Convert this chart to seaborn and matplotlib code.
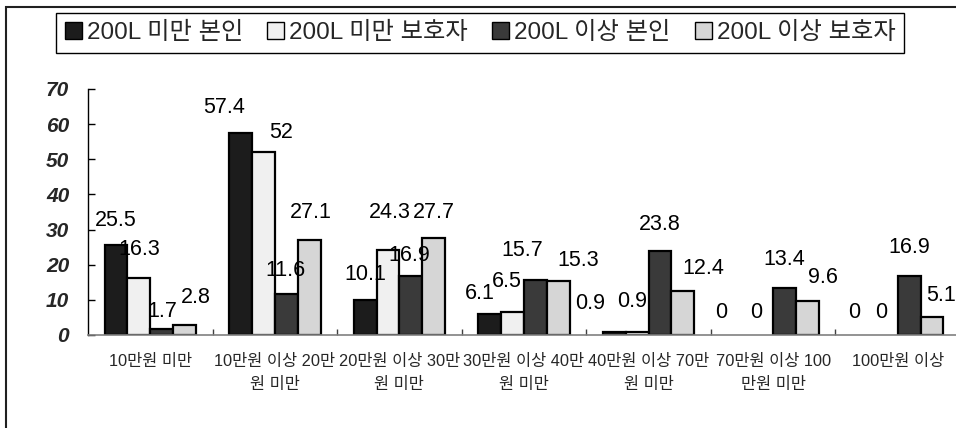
import matplotlib
matplotlib.use("Agg")
import matplotlib.pyplot as plt
from matplotlib.patches import Rectangle
import seaborn as sns
import pandas as pd

# Data
categories = ["10만원 미만", "10만원 이상 20만원 미만", "20만원 이상 30만원 미만",
              "30만원 이상 40만원 미만", "40만원 이상 70만원 미만",
              "70만원 이상 100만원 미만", "100만원 이상"]
tick_labels = ["10만원 미만", "10만원 이상 20만\n원 미만", "20만원 이상 30만\n원 미만",
               "30만원 이상 40만\n원 미만", "40만원 이상 70만\n원 미만",
               "70만원 이상 100\n만원 미만", "100만원 이상"]
series = ["200L 미만 본인", "200L 미만 보호자", "200L 이상 본인", "200L 이상 보호자"]
under_self = [25.5, 57.4, 10.1, 6.1, 0.9, 0, 0]
under_guard = [16.3, 52, 24.3, 6.5, 0.9, 0, 0]
over_self = [1.7, 11.6, 16.9, 15.7, 23.8, 13.4, 16.9]
over_guard = [2.8, 27.1, 27.7, 15.3, 12.4, 9.6, 5.1]

colors = ["#1c1c1c", "#f0f0f0", "#3a3a3a", "#d6d6d6"]

# label nudges (pixels, from top centre of each bar), like the hand-moved Excel labels
label_nudge = [
    [(0, 25), (-16, 26), (0, 25), (-10, 20), (-24, 28), (-18, 22), (-9, 22)],
    [(0, 28), (18, 20), (2, 37), (-6, 31), (-5, 30), (-6, 22), (-5, 22)],
    [(1, 18), (-1, 24), (-2, 20), (-13, 29), (0, 27), (0, 28), (0, 28)],
    [(11, 28), (2, 27), (0, 25), (20, 21), (20, 23), (15, 24), (9, 22)],
]

rows = []
for name, vals in zip(series, [under_self, under_guard, over_self, over_guard]):
    for cat, v in zip(categories, vals):
        rows.append({"category": cat, "series": name, "value": v})
df = pd.DataFrame(rows)

sns.set_style("white")
plt.rcParams["font.family"] = ["Liberation Sans", "Noto Sans CJK KR", "DejaVu Sans"]

fig = plt.figure(figsize=(9.56, 4.28), dpi=100)
ax = fig.add_axes([88 / 956, 93 / 428, 872 / 956, 246 / 428])

sns.barplot(data=df, x="category", y="value", hue="series", order=categories,
            hue_order=series, palette=colors, saturation=1, width=0.735,
            edgecolor="black", linewidth=1.6, legend=False, ax=ax)

# value labels
for i, cont in enumerate(ax.containers):
    for j, bar in enumerate(cont.patches):
        h = bar.get_height()
        if h == 0:
            bar.set_visible(False)
        dx, dy = label_nudge[i][j]
        ax.annotate(f"{h:g}", (bar.get_x() + bar.get_width() / 2, h),
                    xytext=(dx, dy), textcoords="offset pixels",
                    ha="center", va="center", fontsize=15.5, color="black",
                    zorder=5)

ax.set_xlim(-0.5, 6.5)
ax.set_ylim(0, 70)
ax.set_yticks(range(0, 71, 10))
ax.set_xticks(range(len(categories)))
ax.set_xticklabels(tick_labels, fontsize=11.8, linespacing=1.6)
ax.set_xticks([k + 0.5 for k in range(6)], minor=True)
ax.set_xlabel("")
ax.set_ylabel("")
for lab in ax.get_yticklabels():
    lab.set_fontweight("bold")
    lab.set_fontstyle("italic")
    lab.set_fontsize(15)

ax.tick_params(axis="x", which="major", length=0, pad=14)
ax.tick_params(axis="x", which="minor", direction="in", length=4, width=1,
               color="#404040", bottom=True)
ax.tick_params(axis="y", direction="in", length=5, width=1, color="black",
               pad=13.5, left=True)

sns.despine(ax=ax)
ax.spines["left"].set_color("black")
ax.spines["left"].set_linewidth(1)
ax.spines["bottom"].set_color("#808080")
ax.spines["bottom"].set_linewidth(1.2)

leg = ax.legend(list(ax.containers), series, loc="center",
                bbox_to_anchor=(480 / 956, 1 - 33 / 428), bbox_transform=fig.transFigure,
                ncol=4, fontsize=17.5, frameon=True, fancybox=False, framealpha=1,
                edgecolor="black", handlelength=0.7, handleheight=0.7,
                handletextpad=0.2, columnspacing=1.0, borderpad=0.35,
                borderaxespad=0)
leg.get_frame().set_linewidth(1)
for h in leg.legend_handles:
    h.set_linewidth(1)

# outer chart frame (cut off at right and bottom)
fig.add_artist(Rectangle((6 / 956, -0.1), 1.2, 1.1 - 7 / 428,
                         transform=fig.transFigure, fill=False,
                         edgecolor="#202020", linewidth=1.5, clip_on=False))

fig.savefig("out.png", dpi=100)
